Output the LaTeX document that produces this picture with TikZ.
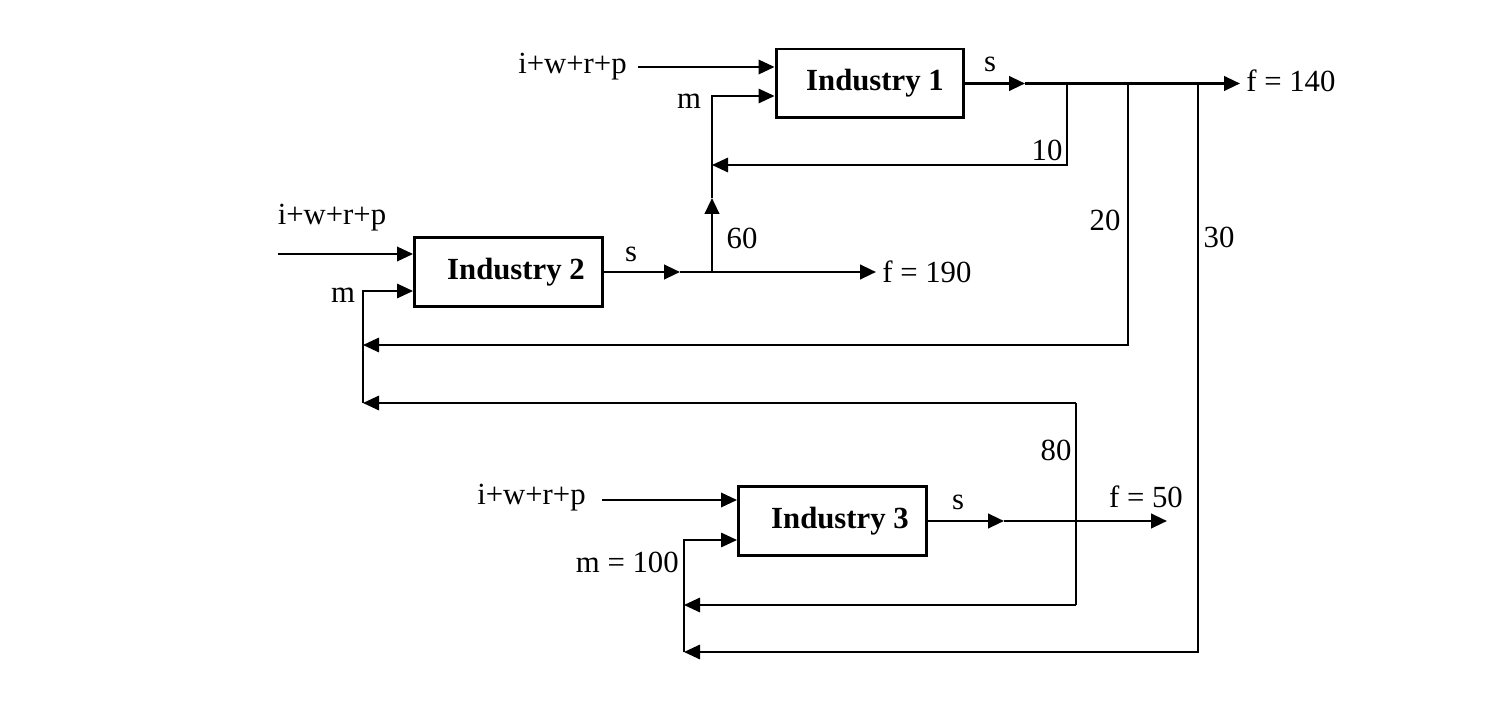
\documentclass[tikz,border=0pt]{standalone}
\usepackage{fontspec}
\setmainfont{Liberation Serif}
\usetikzlibrary{positioning,arrows.meta,calc}
\tikzset{
  flow/.style={-{Triangle[length=3.2mm,width=2.9mm]},line width=1.5pt},
  inflow/.style={-{Triangle[length=3.2mm,width=2.9mm]},line width=1.1pt},
  thinflow/.style={-{Triangle[length=3.2mm,width=2.9mm]},line width=0.9pt},
  plain/.style={line width=0.9pt},
  box/.style={draw,line width=1.7pt,minimum width=3.76cm,minimum height=1.38cm,
    font=\fontsize{17.5}{20}\selectfont\bfseries},
  lbl/.style={font=\fontsize{17.5}{20}\selectfont,inner sep=0pt}
}
\begin{document}
\begin{tikzpicture}[x=0.02cm,y=-0.02cm]
  \useasboundingbox (0,0) rectangle (1488,702);
  \node[box] (ind1) at (870,83.5) {\hspace*{0.2cm}Industry 1};
  \node[box] (ind2) at (508.5,272) {\hspace*{0.3cm}Industry 2};
  \node[box] (ind3) at (832.5,521) {\hspace*{0.3cm}Industry 3};

  \coordinate (in1) at (638,67);
  \coordinate (in2) at (278,254);
  \coordinate (in3) at (602,500);
  \coordinate (s1) at (1025,83.5);
  \coordinate (f1) at (1240,83.5);
  \coordinate (b10) at (1067,83.5);
  \coordinate (b20) at (1128,83.5);
  \coordinate (b30) at (1198,83.5);
  \coordinate (r10) at (712,165);
  \coordinate (s2) at (680,272);
  \coordinate (j60) at (712,272);
  \coordinate (a60) at (712,198);
  \coordinate (f2) at (876,272);
  \coordinate (s3) at (1004,521);
  \coordinate (f3) at (1167,521);
  \coordinate (m2) at (363,291);
  \coordinate (m3) at (684,540);
  \coordinate (r20) at (363,345);
  \coordinate (r80) at (363,403);
  \coordinate (t80) at (1076,403);
  \coordinate (d80) at (1076,605);
  \coordinate (r80b) at (684,605);
  \coordinate (r30) at (684,652);

  \draw[inflow] (in1) -- (in1 -| ind1.west);
  \draw[flow] (ind1.east) -- (s1);
  \draw[flow] (s1) -- (f1);
  \draw[thinflow] (b10) |- (r10);
  \draw[flow] (j60) -- (a60);
  \draw[thinflow] (a60) |- (ind1.west |- 0,96);

  \draw[inflow] (in2) -- (in2 -| ind2.west);
  \draw[flow] (ind2.east) -- (s2);
  \draw[flow] (s2) -- (f2);
  \draw[thinflow] (b20) |- (r20);
  \draw[thinflow] (t80) -- (r80);
  \draw[thinflow] (r80) -- (m2) -- (m2 -| ind2.west);

  \draw[inflow] (in3) -- (in3 -| ind3.west);
  \draw[flow] (ind3.east) -- (s3);
  \draw[flow] (s3) -- (f3);
  \draw[plain] (t80) -- (d80);
  \draw[thinflow] (d80) -- (r80b);
  \draw[thinflow] (b30) |- (r30);
  \draw[thinflow] (r30) -- (m3) -- (m3 -| ind3.west);

  \node[lbl,anchor=east] (x1) at (627,67) {i+w+r+p};
  \node[lbl] (m1lbl) at (689,101) {m};
  \node[lbl] (s1lbl) at (990,64) {s};
  \node[lbl,anchor=west] (f1lbl) at (1246,81) {f = 140};
  \node[lbl] (l10) at (1047,150) {10};
  \node[lbl] (l20) at (1105,220) {20};
  \node[lbl] (l30) at (1219,237) {30};

  \node[lbl] (x2) at (332,218) {i+w+r+p};
  \node[lbl] (m2lbl) at (343,295) {m};
  \node[lbl] (s2lbl) at (631,254) {s};
  \node[lbl] (l60) at (742,238) {60};
  \node[lbl,anchor=west] (f2lbl) at (882,272) {f = 190};
  \node[lbl] (l80) at (1056,450) {80};

  \node[lbl,anchor=east] (x3) at (586,498) {i+w+r+p};
  \node[lbl,anchor=east] (m3lbl) at (679,562) {m = 100};
  \node[lbl] (s3lbl) at (958,502) {s};
  \node[lbl] (f3lbl) at (1146,497) {f = 50};
\end{tikzpicture}
\end{document}
